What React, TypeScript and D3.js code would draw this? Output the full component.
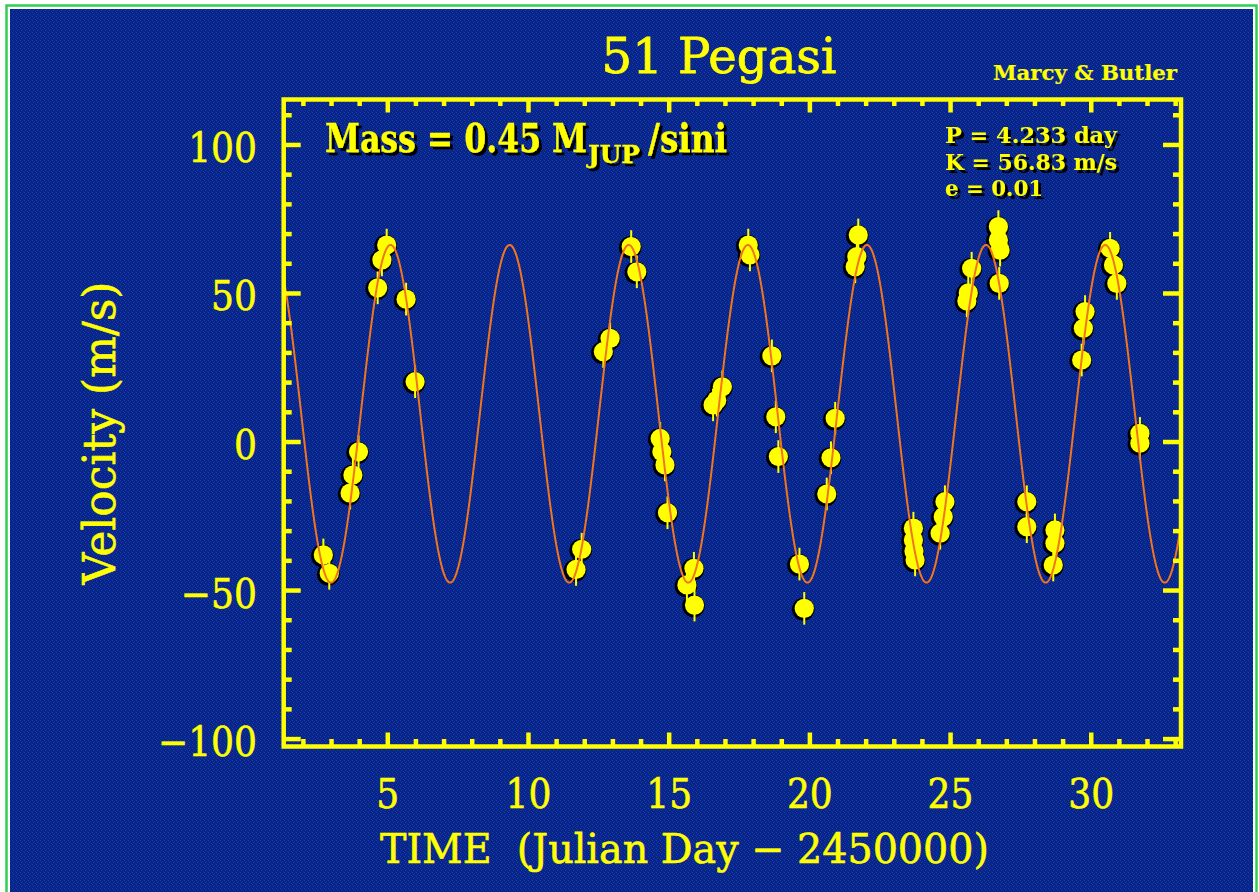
import React from 'react';
import * as d3 from 'd3';

// Observed radial velocities of 51 Pegasi (time in JD - 2450000, velocity in m/s)
const TIMES = [
  2.71, 2.92, 3.66, 3.76, 3.96, 4.64, 4.79, 4.96, 5.65, 5.97,
  11.69, 11.89, 12.66, 12.90, 13.65, 13.85, 14.68, 14.74, 14.85, 14.94,
  15.88, 15.63, 15.90, 16.56, 16.69, 16.89, 17.81, 17.87, 18.65, 18.79,
  18.88, 19.63, 19.80, 20.60, 20.75, 20.90, 21.61, 21.67, 21.72, 23.68,
  23.68, 23.70, 23.74, 24.63, 24.74, 24.80, 25.58, 25.63, 25.75, 26.70,
  26.70, 26.76, 26.73, 27.71, 27.71, 28.71, 28.71, 28.65, 29.66, 29.72,
  29.78, 30.67, 30.79, 30.91, 31.73, 31.73,
];
const VELOCITIES = [
  -38.0, -44.2, -17.2, -11.1, -3.3, 51.9, 61.3, 66.3, 48.1, 20.3,
  -42.9, -36.1, 30.4, 34.9, 65.8, 57.3, 1.2, -3.3, -7.7, -23.8,
  -42.5, -48.1, -54.9, 12.5, 14.1, 18.6, 66.3, 63.0, 29.0, 8.5,
  -4.9, -41.1, -56.0, -17.5, -5.3, 8.0, 59.0, 62.4, 69.7, -29.0,
  -33.0, -36.7, -39.7, -30.7, -25.2, -20.1, 47.5, 50.2, 58.5, 72.5,
  68.0, 64.6, 53.4, -20.1, -28.5, -29.6, -34.1, -41.4, 27.6, 38.3,
  43.9, 65.2, 59.6, 53.4, 2.9, -0.4,
];
const ERROR_BAR = 5.5; // m/s half-length

// Orbital solution shown on the chart
const PERIOD = 4.233; // days
const K_SEMI = 56.83; // m/s
const GAMMA = 9.5; // systemic offset, m/s
const T_PEAK = 9.33; // time of maximum velocity

const X_MAJOR_TICKS = [5, 10, 15, 20, 25, 30];
const Y_MAJOR_TICKS = [-100, -50, 0, 50, 100];
const X_DOMAIN = [1.3, 33.19];
const Y_DOMAIN = [-102.5, 115.3];

const W = 1259;
const H = 892;
const FL = 283.7;
const FR = 1181;
const FT = 99.5;
const FB = 746.5;
const YELLOW = '#ffff00';
const SERIF = '"DejaVu Serif", "Liberation Serif", serif';

function fmt(v: number) {
  return v < 0 ? '\u2212' + Math.abs(v) : String(v);
}

export default function App() {
  const x = d3.scaleLinear().domain(X_DOMAIN).range([FL, FR]);
  const y = d3.scaleLinear().domain(Y_DOMAIN).range([FB, FT]);

  const model = (t: number) => GAMMA + K_SEMI * Math.cos((2 * Math.PI * (t - T_PEAK)) / PERIOD);
  const curveT = d3.range(X_DOMAIN[0], X_DOMAIN[1] + 0.005, 0.01);
  const line = d3
    .line<number>()
    .x((t) => x(t))
    .y((t) => y(model(t)));

  const xMinor = d3.range(2, 34).filter((v) => v % 5 !== 0 && x(v) < FR);
  const yMinor = d3.range(-100, 111, 10).filter((v) => v % 50 !== 0);

  const pts = TIMES.map((t, i) => ({ t, v: VELOCITIES[i] }));
  const txt = { fontFamily: SERIF, fill: YELLOW, stroke: YELLOW, strokeWidth: 0.6 } as any;

  return (
    <svg
      width={W}
      height={H}
      style={{ position: 'absolute', left: 0, top: 0, display: 'block' }}
      xmlns="http://www.w3.org/2000/svg"
    >
      <defs>
        <pattern id="tex" width="4" height="4" patternUnits="userSpaceOnUse">
          <rect width="4" height="4" fill="#07218d" />
          <rect x="0" y="0" width="1" height="1" fill="#1a4596" />
          <rect x="2" y="1" width="1" height="1" fill="#0b3590" />
          <rect x="1" y="2" width="1" height="1" fill="#1a4596" />
          <rect x="3" y="3" width="1" height="1" fill="#0b3590" />
        </pattern>
        <clipPath id="plotclip">
          <rect x={FL} y={FT} width={FR - FL} height={FB - FT} />
        </clipPath>
        <filter id="shadow" x="-10%" y="-30%" width="130%" height="180%">
          <feDropShadow dx="3" dy="3" stdDeviation="0.4" floodColor="#000" floodOpacity="1" />
        </filter>
      </defs>

      <rect x={0} y={0} width={W} height={H} fill="#ffffff" />
      <rect x={6.5} y={5.5} width={1250} height={900} fill="#ffffff" stroke="#2fcf55" strokeWidth={2.5} />
      <rect x={10} y={9} width={1243} height={890} fill="url(#tex)" />

      {/* Title and credits */}
      <text x={719} y={73} textAnchor="middle" fontSize={48} {...txt} strokeWidth={0.8}
        textLength={235} lengthAdjust="spacingAndGlyphs">51 Pegasi</text>
      <text x={993} y={80} fontWeight="bold" fontSize={21} {...txt} strokeWidth={0.2}
        textLength={184} lengthAdjust="spacingAndGlyphs">Marcy &amp; Butler</text>

      {/* Data points: shadows, then fills */}
      <g>
        {pts.map((d, i) => (
          <circle key={'s' + i} cx={x(d.t) - 1} cy={y(d.v) + 1} r={11.3} fill="#000" />
        ))}
        {pts.map((d, i) => (
          <circle key={'c' + i} cx={x(d.t)} cy={y(d.v)} r={9.6} fill={YELLOW} />
        ))}
        {pts.map((d, i) => (
          <line key={'e' + i} x1={x(d.t)} x2={x(d.t)} y1={y(d.v - ERROR_BAR)} y2={y(d.v + ERROR_BAR)}
            stroke={YELLOW} strokeWidth={2} />
        ))}
      </g>

      {/* Orbital fit */}
      <path d={line(curveT) || ''} fill="none" stroke="#f2751e" strokeWidth={2} clipPath="url(#plotclip)" />

      {/* Frame */}
      <rect x={FL} y={FT} width={FR - FL} height={FB - FT} fill="none" stroke={YELLOW} strokeWidth={4.5} />

      {/* X ticks (bottom and top) */}
      {X_MAJOR_TICKS.map((v) => (
        <g key={'xM' + v}>
          <line x1={x(v)} x2={x(v)} y1={FB} y2={FB - 14} stroke={YELLOW} strokeWidth={4.5} />
          <line x1={x(v)} x2={x(v)} y1={FT} y2={FT + 13} stroke={YELLOW} strokeWidth={4.5} />
        </g>
      ))}
      {xMinor.map((v) => (
        <g key={'xm' + v}>
          <line x1={x(v)} x2={x(v)} y1={FB} y2={FB - 7.5} stroke={YELLOW} strokeWidth={4.5} />
          <line x1={x(v)} x2={x(v)} y1={FT} y2={FT + 6.5} stroke={YELLOW} strokeWidth={4.5} />
        </g>
      ))}
      {/* Y ticks (left and right) */}
      {Y_MAJOR_TICKS.map((v) => (
        <g key={'yM' + v}>
          <line x1={FL} x2={FL + 17} y1={y(v)} y2={y(v)} stroke={YELLOW} strokeWidth={4.5} />
          <line x1={FR} x2={FR - 18} y1={y(v)} y2={y(v)} stroke={YELLOW} strokeWidth={4.5} />
        </g>
      ))}
      {yMinor.map((v) => (
        <g key={'ym' + v}>
          <line x1={FL} x2={FL + 8} y1={y(v)} y2={y(v)} stroke={YELLOW} strokeWidth={4.5} />
          <line x1={FR} x2={FR - 8} y1={y(v)} y2={y(v)} stroke={YELLOW} strokeWidth={4.5} />
        </g>
      ))}

      {/* Tick labels */}
      {Y_MAJOR_TICKS.map((v) => (
        <text key={'yl' + v} transform={`translate(257,${y(v) + 17}) scale(0.88,1)`} textAnchor="end"
          fontSize={41} {...txt}>{fmt(v)}</text>
      ))}
      {X_MAJOR_TICKS.map((v) => (
        <text key={'xl' + v} transform={`translate(${x(v)},808) scale(0.88,1)`} textAnchor="middle"
          fontSize={41} {...txt}>{fmt(v)}</text>
      ))}

      {/* Axis titles */}
      <text x={380} y={863} fontSize={41} {...txt} textLength={609}
        lengthAdjust="spacingAndGlyphs" style={{ whiteSpace: 'pre' }}>{'TIME  (Julian Day \u2212 2450000)'}</text>
      <text transform="translate(115,433) rotate(-90)" textAnchor="middle" fontSize={44} {...txt}
        textLength={303} lengthAdjust="spacingAndGlyphs">Velocity (m/s)</text>

      {/* Annotations with drop shadow */}
      <g filter="url(#shadow)">
        <text x={325} y={152} fontWeight="bold" fontSize={40} {...txt} strokeWidth={0.3}>
          <tspan textLength={262} lengthAdjust="spacingAndGlyphs">Mass = 0.45 M</tspan>
          <tspan x={588} y={163} fontSize={25} textLength={52} lengthAdjust="spacingAndGlyphs">JUP</tspan>
          <tspan x={648} y={152} textLength={79} lengthAdjust="spacingAndGlyphs">/sini</tspan>
        </text>
      </g>
      <g filter="url(#shadow)">
        <text x={945} y={143} fontWeight="bold" fontSize={23} {...txt} strokeWidth={0}>
          <tspan x={945} y={143} textLength={172} lengthAdjust="spacingAndGlyphs">P = 4.233 day</tspan>
          <tspan x={945} y={170} textLength={172} lengthAdjust="spacingAndGlyphs">K = 56.83 m/s</tspan>
          <tspan x={945} y={196} textLength={98} lengthAdjust="spacingAndGlyphs">e = 0.01</tspan>
        </text>
      </g>
    </svg>
  );
}
